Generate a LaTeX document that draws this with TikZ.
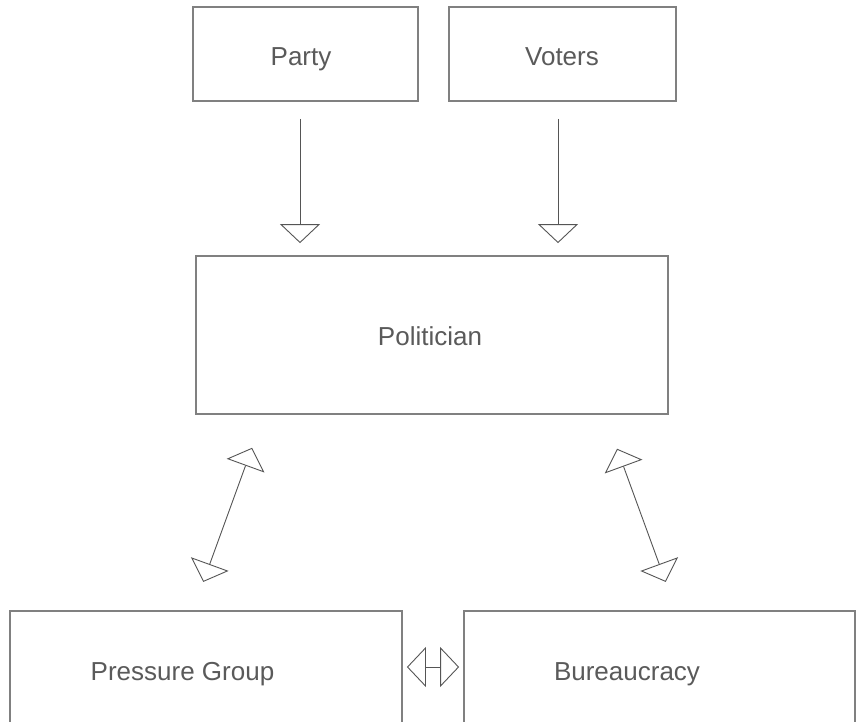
\documentclass[tikz,border=0pt]{standalone}
\usepackage{fontspec}
\setmainfont{Liberation Sans}
\usetikzlibrary{arrows.meta}
\definecolor{boxc}{HTML}{808080}
\definecolor{arrc}{HTML}{555555}
\definecolor{txtc}{HTML}{5A5A5A}
\begin{document}
\begin{tikzpicture}[x=1pt,y=-1pt,
  box/.style={draw=boxc, line width=1.8pt, fill=white, inner sep=0pt},
  lbl/.style={text=txtc, font=\fontsize{26}{30}\selectfont, inner sep=0pt, anchor=base},
  arr/.style={draw=arrc, line width=0.9pt, -{Triangle[open, length=19pt, width=40pt, fill=white]}},
  darr/.style={draw=arrc, line width=0.9pt, {Triangle[open, length=19pt, width=40pt, fill=white]}-{Triangle[open, length=19pt, width=40pt, fill=white]}}]
\useasboundingbox (0,0) rectangle (856,721);
\fill[white] (0,0) rectangle (856,721);
\node[box, minimum width=225pt, minimum height=94pt] (party) at (305.5,54) {};
\node[box, minimum width=227pt, minimum height=94pt] (voters) at (562.5,54) {};
\node[box, minimum width=472pt, minimum height=158pt] (politician) at (432,335) {};
\node[box, minimum width=392pt, minimum height=112pt] (pressure) at (206,667) {};
\node[box, minimum width=391pt, minimum height=112pt] (bureau) at (659.5,667) {};
\node[lbl] (partytext) at (301,65) {Party};
\node[lbl] (voterstext) at (562,65) {Voters};
\node[lbl] (poltext) at (430,345) {Politician};
\node[lbl] (pgtext) at (182.5,680) {Pressure Group};
\node[lbl] (butext) at (627,680) {Bureaucracy};
% vertical arrows
\draw[arr, shorten <=17pt, shorten >=12pt] ([xshift=-5.5pt]party.south) -- ([xshift=-5.5pt]party.south |- politician.north);
\draw[arr, shorten <=17pt, shorten >=12pt] ([xshift=-4.5pt]voters.south) -- ([xshift=-4.5pt]voters.south |- politician.north);
% diagonal arrows
\coordinate (pl) at ([xshift=-168pt]politician.south);
\coordinate (pgt) at ([xshift=-13pt]pressure.north);
\draw[darr, shorten <=35pt, shorten >=30pt] (pl) -- (pgt);
\coordinate (pr) at ([xshift=172.7pt]politician.south);
\coordinate (bt) at ([xshift=16.5pt]bureau.north);
\draw[darr, shorten <=36pt, shorten >=30pt] (pr) -- (bt);
% horizontal
\draw[darr, shorten <=4pt, shorten >=4pt] (pressure.east) -- (bureau.west);
\end{tikzpicture}
\end{document}
